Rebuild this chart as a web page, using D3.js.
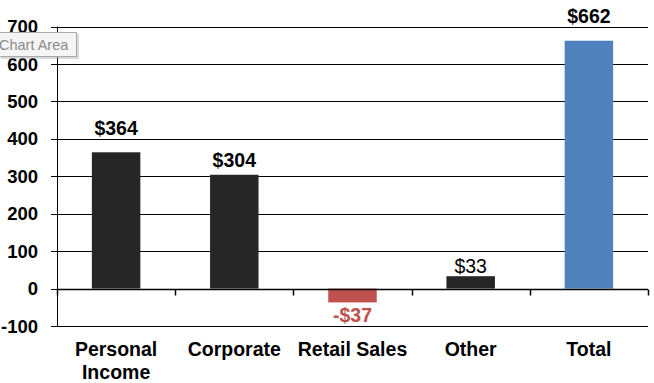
<!DOCTYPE html>
<html>
<head>
<meta charset="utf-8">
<script src="https://cdn.jsdelivr.net/npm/d3@7"></script>
<style>
  body { margin: 0; background: #fff; }
  svg { display: block; font-family: "Liberation Sans", Arial, sans-serif; }
</style>
</head>
<body>
<div id="chart"></div>
<script>
// data
var categories = ["Personal|Income", "Corporate", "Retail Sales", "Other", "Total"];
var values = [364, 304, -37, 33, 662];
var labels = ["$364", "$304", "-$37", "$33", "$662"];
var barColors = ["#262626", "#262626", "#C0504D", "#262626", "#4F81BD"];
var yTicks = [-100, 0, 100, 200, 300, 400, 500, 600, 700];

// labels were nudged by hand in the original, gap in px from bar end
var labelGap = [17, 8, 20, 3, 18];

var width = 654, height = 383;
var margin = {top: 26.5, right: 6, bottom: 57, left: 57};

var svg = d3.select("#chart").append("svg")
    .attr("width", width)
    .attr("height", height);

var x = d3.scaleBand()
    .domain(d3.range(categories.length))
    .range([margin.left, width - margin.right])
    .paddingInner(0.59)
    .paddingOuter(0.295);

var xCat = d3.scaleBand()
    .domain(d3.range(categories.length))
    .range([margin.left, width - margin.right]);

var y = d3.scaleLinear()
    .domain([-100, 700])
    .range([height - margin.bottom, margin.top]);

// gridlines + y ticks
svg.append("g")
    .selectAll("line")
    .data(yTicks)
    .enter().append("line")
        .attr("x1", margin.left - 6)
        .attr("x2", width - margin.right)
        .attr("y1", function(d) { return Math.round(y(d)) + 0.5; })
        .attr("y2", function(d) { return Math.round(y(d)) + 0.5; })
        .attr("stroke", "#000")
        .attr("stroke-width", 1);

svg.append("g")
    .selectAll("text")
    .data(yTicks)
    .enter().append("text")
        .attr("x", 38)
        .attr("y", function(d) { return y(d); })
        .attr("dy", "0.36em")
        .attr("text-anchor", "end")
        .attr("font-size", 18.5)
        .attr("font-weight", "bold")
        .text(function(d) { return d; });

// vertical axis
svg.append("line")
    .attr("x1", margin.left + 0.5).attr("x2", margin.left + 0.5)
    .attr("y1", y(700)).attr("y2", y(-100) + 0.5)
    .attr("stroke", "#000");

// bars
svg.append("g")
    .selectAll("rect")
    .data(values)
    .enter().append("rect")
        .attr("x", function(d, i) { return x(i); })
        .attr("width", x.bandwidth())
        .attr("y", function(d) { return y(Math.max(0, d)); })
        .attr("height", function(d) { return Math.abs(y(d) - y(0)); })
        .attr("fill", function(d, i) { return barColors[i]; });

// category axis at zero, with tick marks
var zeroY = Math.round(y(0)) + 0.5;
svg.append("line")
    .attr("x1", margin.left).attr("x2", width - margin.right)
    .attr("y1", zeroY).attr("y2", zeroY)
    .attr("stroke", "#000").attr("stroke-width", 1.5);

svg.append("g")
    .selectAll("line")
    .data(d3.range(categories.length + 1))
    .enter().append("line")
        .attr("x1", function(d) { return Math.round(margin.left + d * xCat.bandwidth()) + 0.5; })
        .attr("x2", function(d) { return Math.round(margin.left + d * xCat.bandwidth()) + 0.5; })
        .attr("y1", zeroY).attr("y2", zeroY + 6)
        .attr("stroke", "#000").attr("stroke-width", 1.5);

// value labels
svg.append("g")
    .selectAll("text")
    .data(values)
    .enter().append("text")
        .attr("x", function(d, i) { return x(i) + x.bandwidth() / 2; })
        .attr("y", function(d, i) { return d < 0 ? y(d) + labelGap[i] : y(d) - labelGap[i]; })
        .attr("text-anchor", "middle")
        .attr("font-size", 19.5)
        .attr("font-weight", function(d) { return d < 50 && d > 0 ? "normal" : "bold"; })
        .attr("fill", function(d) { return d < 0 ? "#C0504D" : "#000"; })
        .text(function(d, i) { return labels[i]; });

// category labels
var cat = svg.append("g")
    .selectAll("text")
    .data(categories)
    .enter().append("text")
        .attr("x", function(d, i) { return xCat(i) + xCat.bandwidth() / 2; })
        .attr("y", 356)
        .attr("text-anchor", "middle")
        .attr("font-size", 19.5)
        .attr("font-weight", "bold");

cat.selectAll("tspan")
    .data(function(d) { return d.split("|"); })
    .enter().append("tspan")
        .attr("x", function() { return d3.select(this.parentNode).attr("x"); })
        .attr("dy", function(d, i) { return i ? 23 : 0; })
        .text(function(d) { return d; });

// hover tooltip seen in the screenshot
var tip = svg.append("g").attr("transform", "translate(-1,32)");
tip.append("rect")
    .attr("x", 2).attr("y", 2)
    .attr("width", 78).attr("height", 25)
    .attr("fill", "#aaa").attr("opacity", 0.45);
tip.append("rect")
    .attr("x", 0.5).attr("y", 0.5)
    .attr("width", 77).attr("height", 24)
    .attr("fill", "#f5f5f5").attr("stroke", "#aaa");
tip.append("text")
    .attr("x", 0).attr("y", 17.5)
    .attr("font-size", 14.5)
    .attr("fill", "#8a8a8a")
    .text("Chart Area");
</script>
</body>
</html>
